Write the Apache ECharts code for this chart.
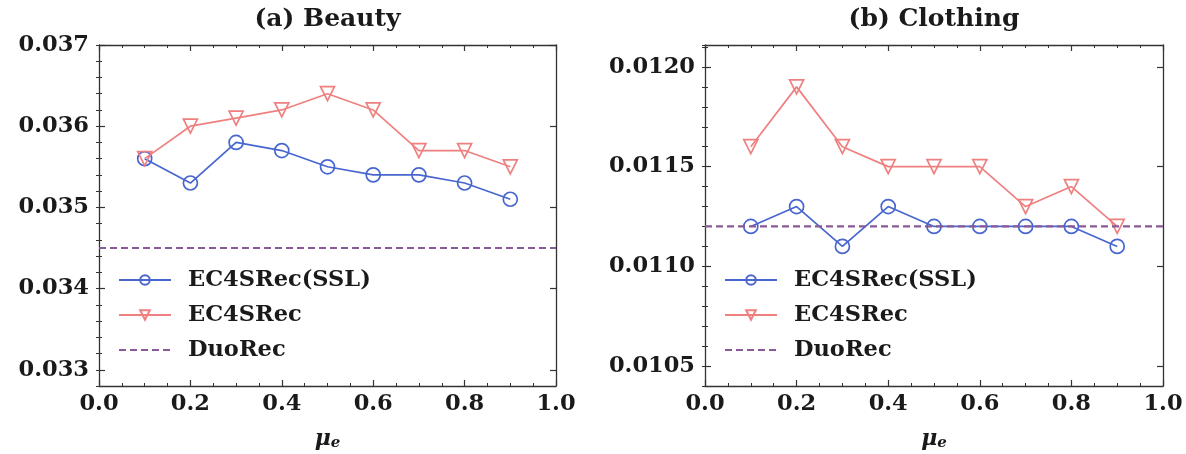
<!DOCTYPE html>
<html>
<head>
<meta charset="utf-8">
<script src="https://cdn.jsdelivr.net/npm/echarts@6/dist/echarts.min.js"></script>
<style>
html,body{margin:0;padding:0;background:#fff;}
#chart{width:1186px;height:454px;}
</style>
</head>
<body>
<div id="chart"></div>
<script>
// ---- data ----
const muValues = [0.1, 0.2, 0.3, 0.4, 0.5, 0.6, 0.7, 0.8, 0.9];
const beautySSL = [0.0356, 0.0353, 0.0358, 0.0357, 0.0355, 0.0354, 0.0354, 0.0353, 0.0351];
const beautyEC4 = [0.0356, 0.0360, 0.0361, 0.0362, 0.0364, 0.0362, 0.0357, 0.0357, 0.0355];
const beautyDuo = 0.0345;
const clothingSSL = [0.0112, 0.0113, 0.0111, 0.0113, 0.0112, 0.0112, 0.0112, 0.0112, 0.0111];
const clothingEC4 = [0.0116, 0.0119, 0.0116, 0.0115, 0.0115, 0.0115, 0.0113, 0.0114, 0.0112];
const clothingDuo = 0.0112;
const xTicks = [0, 0.2, 0.4, 0.6, 0.8, 1.0];
const beautyYTicks = [0.033, 0.034, 0.035, 0.036, 0.037];
const clothingYTicks = [0.0105, 0.0110, 0.0115, 0.0120];
const titles = ['(a) Beauty', '(b) Clothing'];
const seriesNames = ['EC4SRec(SSL)', 'EC4SRec', 'DuoRec'];

// ---- style ----
const BLUE = '#4866d0';
const RED = '#ee8080';
const PURPLE = '#8a5a96';
const AXIS = '#333';
const FONT = 'DejaVu Serif';
const TICK_FS = 22.5;

const grids = [
  {left: 99, top: 45, width: 457, height: 341},
  {left: 705, top: 45, width: 458, height: 341}
];
const yRanges = [
  {min: 0.0328, max: 0.037, minor: 0.0002, ticks: beautyYTicks, dec: 3},
  {min: 0.0104, max: 0.01211, minor: 0.0001, ticks: clothingYTicks, dec: 4}
];

const xAxis = [], yAxis = [], series = [], title = [], legend = [];
grids.forEach((g, gi) => {
  xAxis.push({
    type: 'value', gridIndex: gi, position: 'bottom', min: 0, max: 1, interval: 0.2,
    axisLine: {show: true, onZero: false, lineStyle: {color: AXIS, width: 1.3}},
    axisTick: {show: true, inside: true, length: 6, lineStyle: {color: AXIS, width: 1.2}},
    minorTick: {show: true, splitNumber: 4, length: 3, lineStyle: {color: AXIS, width: 1}},
    splitLine: {show: false}, minorSplitLine: {show: false},
    axisLabel: {show: true, margin: 7, fontFamily: FONT, fontWeight: 'bold', fontSize: TICK_FS, color: '#1a1a1a',
      formatter: v => v.toFixed(1), customValues: xTicks},
    name: '{m|μ}{s|e}', nameLocation: 'middle', nameGap: 42,
    nameTextStyle: {rich: {
      m: {fontFamily: FONT, fontWeight: 'bold', fontStyle: 'italic', fontSize: 22, color: '#1a1a1a'},
      s: {fontFamily: FONT, fontWeight: 'bold', fontStyle: 'italic', fontSize: 15, color: '#1a1a1a', padding: [8, 0, 0, 0]}
    }}
  });
  xAxis.push({
    type: 'value', gridIndex: gi, position: 'top', min: 0, max: 1, interval: 0.2,
    axisLine: {show: true, onZero: false, lineStyle: {color: AXIS, width: 1.3}},
    axisTick: {show: true, inside: true, length: 6, lineStyle: {color: AXIS, width: 1.2}},
    minorTick: {show: true, splitNumber: 4, length: 3, lineStyle: {color: AXIS, width: 1}},
    splitLine: {show: false}, axisLabel: {show: false}
  });
  const r = yRanges[gi];
  ['left', 'right'].forEach(pos => {
    yAxis.push({
      type: 'value', gridIndex: gi, position: pos, min: r.min, max: r.max,
      axisLine: {show: true, onZero: false, lineStyle: {color: AXIS, width: 1.3}},
      axisTick: {show: true, inside: true, length: 6, customValues: r.ticks, lineStyle: {color: AXIS, width: 1.2}},
      splitLine: {show: false},
      axisLabel: {show: pos === 'left', margin: 10, customValues: r.ticks, fontFamily: FONT, fontWeight: 'bold',
        fontSize: TICK_FS, color: '#1a1a1a', formatter: v => v.toFixed(r.dec)}
    });
    yAxis.push({
      type: 'value', gridIndex: gi, position: pos, min: r.min, max: r.max, interval: r.minor,
      axisLine: {show: false},
      axisTick: {show: true, inside: true, length: 3, lineStyle: {color: AXIS, width: 1}},
      splitLine: {show: false}, axisLabel: {show: false}
    });
  });
  const xi = gi * 2, yi = gi * 4;
  const ssl = gi === 0 ? beautySSL : clothingSSL;
  const ec4 = gi === 0 ? beautyEC4 : clothingEC4;
  const duo = gi === 0 ? beautyDuo : clothingDuo;
  series.push({
    name: seriesNames[0], type: 'line', xAxisIndex: xi, yAxisIndex: yi,
    data: muValues.map((x, i) => [x, ssl[i]]),
    symbol: 'circle', symbolSize: 14, z: 3,
    itemStyle: {color: 'rgba(255,255,255,0)', borderColor: BLUE, borderWidth: 1.7},
    lineStyle: {color: BLUE, width: 1.7}
  });
  series.push({
    name: seriesNames[1], type: 'line', xAxisIndex: xi, yAxisIndex: yi,
    data: muValues.map((x, i) => [x, ec4[i]]),
    symbol: 'triangle', symbolRotate: 180, symbolSize: 14, z: 3,
    itemStyle: {color: 'rgba(255,255,255,0)', borderColor: RED, borderWidth: 1.7},
    lineStyle: {color: RED, width: 1.7}
  });
  series.push({
    name: seriesNames[2], type: 'line', xAxisIndex: xi, yAxisIndex: yi,
    data: [[0, duo], [1, duo]], symbol: 'none', showSymbol: false, z: 4,
    itemStyle: {color: PURPLE},
    lineStyle: {color: PURPLE, width: 2.2, type: [7, 4]}
  });
  title.push({
    text: titles[gi], left: g.left + g.width / 2, top: 7, textAlign: 'center', padding: 0,
    textStyle: {fontFamily: FONT, fontWeight: 'bold', fontSize: 25, color: '#1a1a1a'}
  });
  legend.push({
    data: [
      {name: seriesNames[0]},
      {name: seriesNames[1]},
      {name: seriesNames[2], itemStyle: {opacity: 0, borderWidth: 0}}
    ],
    orient: 'vertical', left: g.left + 19, top: 268, padding: 0,
    itemWidth: 52, itemHeight: 12, itemGap: 11,
    textStyle: {fontFamily: FONT, fontWeight: 'bold', fontSize: 22.5, color: '#1a1a1a', padding: [0, 0, 0, 12], lineHeight: 24},
    selectedMode: false
  });
});

const chart = echarts.init(document.getElementById('chart'), null, {renderer: 'canvas'});
chart.setOption({
  animation: false,
  backgroundColor: '#fff',
  grid: grids.map(g => Object.assign({containLabel: false, outerBoundsMode: 'none'}, g)),
  title, legend, xAxis, yAxis, series
});
</script>
</body>
</html>
